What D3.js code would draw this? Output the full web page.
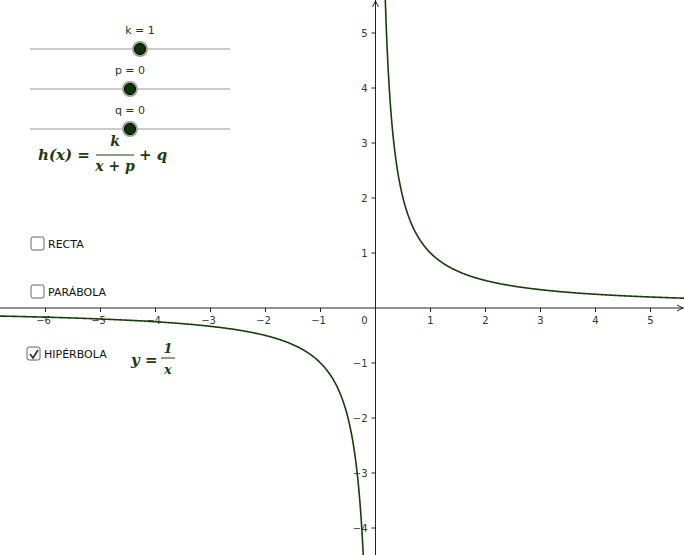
<!DOCTYPE html>
<html>
<head>
<meta charset="utf-8">
<script src="https://cdn.jsdelivr.net/npm/d3@7"></script>
<style>
body{margin:0;background:#fff;}
text{font-family:"DejaVu Sans",sans-serif;}
.m{font-family:"DejaVu Serif",serif;font-style:italic;font-weight:bold;fill:#1e3a14;}
</style>
</head>
<body>
<script>
var xTicks = [-6,-5,-4,-3,-2,-1,1,2,3,4,5];
var yTicks = [-4,-3,-2,-1,1,2,3,4,5];
var sliders = [{name:"k",value:1},{name:"p",value:0},{name:"q",value:0}];
var checks = [{label:"RECTA",on:false},{label:"PARÁBOLA",on:false},{label:"HIPÉRBOLA",on:true}];

var w = 684, h = 555;
var svg = d3.select("body").append("svg").attr("width", w).attr("height", h);
var x = d3.scaleLinear().domain([0,1]).range([375.5,430.5]);
var y = d3.scaleLinear().domain([0,1]).range([308,253]);

// axes
var ax = "#222";
svg.append("line").attr("x1",0).attr("x2",w).attr("y1",y(0)).attr("y2",y(0)).attr("stroke",ax);
svg.append("line").attr("x1",x(0)).attr("x2",x(0)).attr("y1",0).attr("y2",h).attr("stroke",ax);
svg.append("path").attr("d","M"+(w-1)+","+y(0)+"l-6,-3M"+(w-1)+","+y(0)+"l-6,3").attr("stroke",ax).attr("fill","none");
svg.append("path").attr("d","M"+x(0)+",1l-3,6M"+x(0)+",1l3,6").attr("stroke",ax).attr("fill","none");
svg.selectAll(".xt").data(xTicks).enter().append("line")
  .attr("x1",d=>x(d)).attr("x2",d=>x(d)).attr("y1",y(0)).attr("y2",y(0)+4).attr("stroke",ax);
svg.selectAll(".xl").data(xTicks).enter().append("text")
  .attr("x",d=>x(d)-(d<0?2:0)).attr("y",y(0)+16).attr("text-anchor","middle")
  .attr("font-size",10).attr("fill","#333").text(d=>d<0?"\u2212"+(-d):d);
svg.append("text").attr("x",x(0)-11).attr("y",y(0)+16).attr("font-size",10).attr("fill","#333").attr("text-anchor","middle").text("0");
svg.selectAll(".yt").data(yTicks).enter().append("line")
  .attr("x1",x(0)-4).attr("x2",x(0)).attr("y1",d=>y(d)).attr("y2",d=>y(d)).attr("stroke",ax);
svg.selectAll(".yl").data(yTicks).enter().append("text")
  .attr("x",x(0)-8).attr("y",d=>y(d)+4).attr("text-anchor","end")
  .attr("font-size",10).attr("fill","#333").text(d=>d<0?"\u2212"+(-d):d);

// curve h(x)=k/(x+p)+q
var k=1,p=0,q=0;
var line = d3.line().x(d=>x(d)).y(d=>y(k/(d+p)+q));
var pos = d3.range(0.17,5.7,0.01), neg = d3.range(-6.9,-0.12,0.01);
[pos,neg].forEach(function(a){
  svg.append("path").attr("d",line(a)).attr("fill","none").attr("stroke","#173d0c").attr("stroke-width",1.6);
});

// sliders
var s = d3.scaleLinear().domain([-10,10]).range([30,230]);
sliders.forEach(function(d,i){
  var cy = 49+i*40;
  svg.append("line").attr("x1",30).attr("x2",230).attr("y1",cy).attr("y2",cy).attr("stroke","#999");
  svg.append("circle").attr("cx",s(d.value)).attr("cy",cy).attr("r",8).attr("fill","#9aa395");
  svg.append("circle").attr("cx",s(d.value)).attr("cy",cy).attr("r",5.5).attr("fill","#0d3306").attr("stroke","#000");
  svg.append("text").attr("x",s(d.value)).attr("y",cy-15).attr("text-anchor","middle")
    .attr("font-size",11).attr("fill","#1e3a14").text(d.name+" = "+d.value);
});

// formula h(x)
svg.append("text").attr("class","m").attr("x",38).attr("y",160).attr("font-size",15).text("h(x) =");
svg.append("text").attr("class","m").attr("x",115).attr("y",146).attr("font-size",14).attr("text-anchor","middle").text("k");
svg.append("line").attr("x1",96).attr("x2",134).attr("y1",155).attr("y2",155).attr("stroke","#1e3a14");
svg.append("text").attr("class","m").attr("x",115).attr("y",171).attr("font-size",14).attr("text-anchor","middle").text("x + p");
svg.append("text").attr("class","m").attr("x",139).attr("y",160).attr("font-size",15).text("+ q");

// checkboxes
checks.forEach(function(d,i){
  var cy = [244,292,354][i], cx = i==2?27:31;
  svg.append("rect").attr("x",cx).attr("y",cy-7).attr("width",13).attr("height",13).attr("rx",2)
    .attr("fill","#fff").attr("stroke","#666");
  if(d.on) svg.append("path").attr("d","M"+(cx+3)+","+cy+"l3,4l5,-8").attr("stroke","#333").attr("stroke-width",1.8).attr("fill","none");
  svg.append("text").attr("x",cx+17).attr("y",cy+4).attr("font-size",11).attr("fill","#111").text(d.label);
});

// y = 1/x
svg.append("text").attr("class","m").attr("x",131).attr("y",365).attr("font-size",15).text("y =");
svg.append("text").attr("class","m").attr("x",168).attr("y",353).attr("font-size",13).attr("text-anchor","middle").text("1");
svg.append("line").attr("x1",161).attr("x2",175).attr("y1",358).attr("y2",358).attr("stroke","#1e3a14");
svg.append("text").attr("class","m").attr("x",168).attr("y",374).attr("font-size",13).attr("text-anchor","middle").text("x");
</script>
</body>
</html>
